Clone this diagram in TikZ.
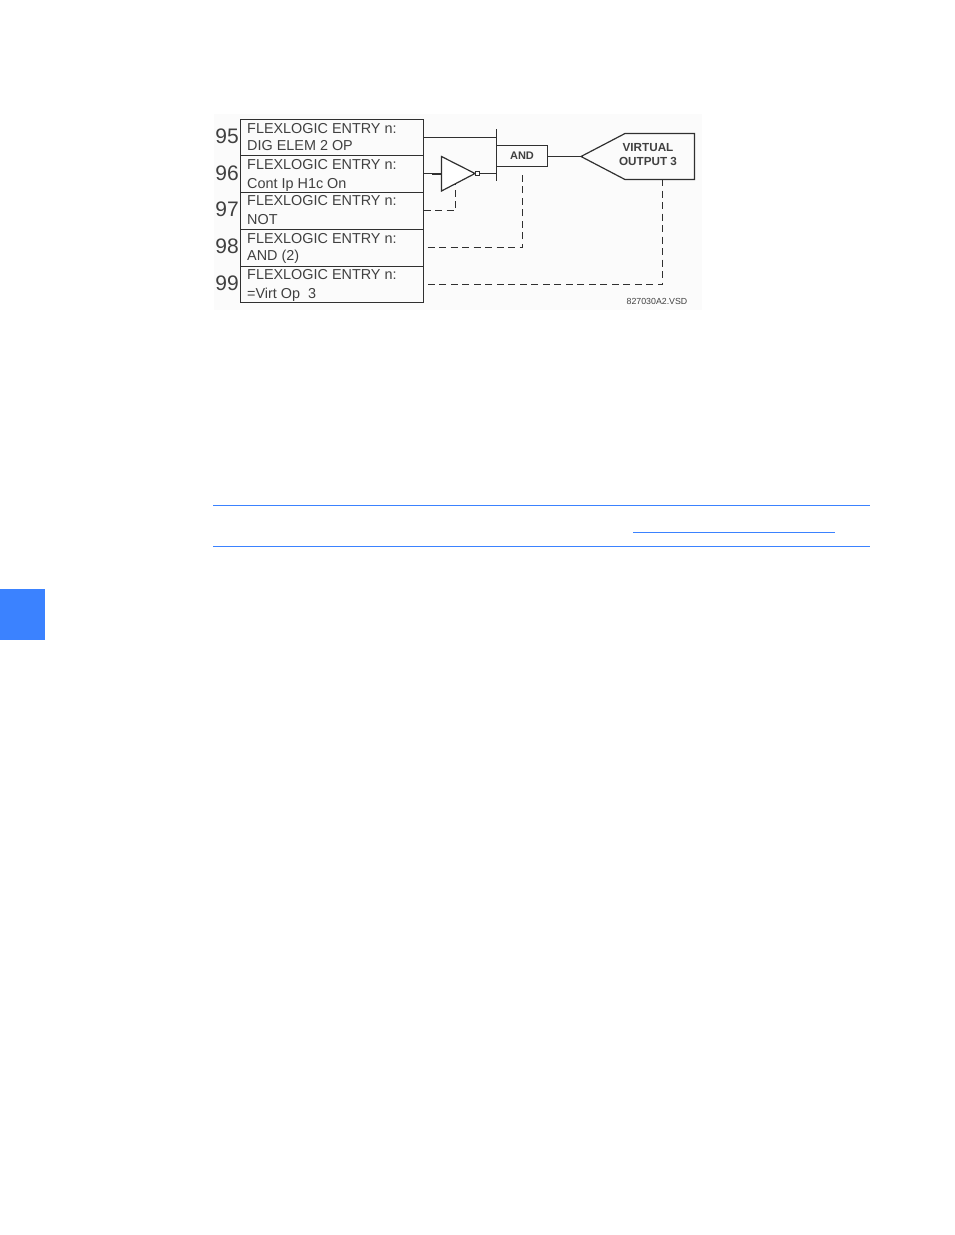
\documentclass[tikz,border=0pt]{standalone}
\usepackage{fontspec}
\setmainfont{Liberation Sans}
\usetikzlibrary{calc}
\definecolor{ink}{HTML}{303030}
\definecolor{txt}{HTML}{404040}
\definecolor{rule}{HTML}{3B82FF}
\tikzset{
  entry/.style={draw=ink,line width=1.2pt,minimum width=183pt,inner sep=0pt,outer sep=0pt,anchor=north west},
  etext/.style={text=txt,font=\fontsize{14.4}{16}\selectfont,anchor=base west,inner sep=0pt},
  num/.style={text=txt,font=\fontsize{21}{24}\selectfont,anchor=base east,inner sep=0pt},
  wire/.style={draw=ink,line width=1.2pt},
  dashwire/.style={draw=ink,line width=1.2pt,dash pattern=on 7pt off 4.5pt},
  gate/.style={draw=ink,line width=1.2pt,fill=white},
  andbox/.style={draw=ink,line width=1.2pt,minimum width=51pt,minimum height=21pt,inner sep=0pt,outer sep=0pt,anchor=north west,text=txt,font=\bfseries\fontsize{11}{12}\selectfont},
  vtext/.style={text=txt,font=\bfseries\fontsize{11.7}{14}\selectfont,align=center,inner sep=0pt},
  ref/.style={text=txt,font=\fontsize{8.8}{10}\selectfont,inner sep=0pt},
  bluerule/.style={draw=rule,line width=0.9pt}
}
\begin{document}
\begin{tikzpicture}[x=1pt,y=-1pt]
\useasboundingbox (0,0) rectangle (954,1235);
\fill[white] (0,0) rectangle (954,1235);
\fill[black!1.5] (214,114) rectangle (702,310);
% rows
\node[entry,minimum height=36pt] (r95) at (240.5,119.5) {};
\node[entry,minimum height=37pt] (r96) at (240.5,155.5) {};
\node[entry,minimum height=37pt] (r97) at (240.5,192.5) {};
\node[entry,minimum height=37pt] (r98) at (240.5,229.5) {};
\node[entry,minimum height=36pt] (r99) at (240.5,266.5) {};
% row texts
\node[etext] (t95a) at (247,133) {FLEXLOGIC ENTRY n:};
\node[etext] (t95b) at (247,150) {DIG ELEM 2 OP};
\node[etext] (t96a) at (247,169) {FLEXLOGIC ENTRY n:};
\node[etext] (t96b) at (247,188) {Cont Ip H1c On};
\node[etext] (t97a) at (247,205) {FLEXLOGIC ENTRY n:};
\node[etext] (t97b) at (247,224) {NOT};
\node[etext] (t98a) at (247,243) {FLEXLOGIC ENTRY n:};
\node[etext] (t98b) at (247,260) {AND (2)};
\node[etext] (t99a) at (247,279) {FLEXLOGIC ENTRY n:};
\node[etext] (t99b) at (247,298) {=Virt Op\ \ 3};
% numbers
\node[num] (n95) at (239,143) {95};
\node[num] (n96) at (239,180) {96};
\node[num] (n97) at (239,216) {97};
\node[num] (n98) at (239,253) {98};
\node[num] (n99) at (239,290) {99};
% inverter
\draw[gate] (441.5,156.5) -- (441.5,191) -- (475,173.5) -- cycle;
\coordinate (notin) at (441.5,173.5);
\coordinate (notctl) at (455.5,184);
\node[draw=ink,line width=0.9pt,fill=white,minimum size=4.5pt,inner sep=0pt,outer sep=0pt] (bub) at (477.5,173.5) {};
% and gate
\node[andbox] (and) at (496.5,145.5) {AND};
\coordinate (bustop) at (496.5,129);
\coordinate (busbot) at (496.5,181);
\draw[wire] (bustop) -- (busbot);
% virtual output
\coordinate (vtip) at (581,156.5);
\coordinate (vbot) at (662.5,179);
\draw[wire] (vtip) -- (625,133.5) -- (694.5,133.5) -- (694.5,179.5) -- (625,179.5) -- cycle;
\node[vtext] (vo) at (648,155) {VIRTUAL\\OUTPUT 3};
% solid wires
\draw[wire] (r95.east |- 0,137.5) -- (bustop |- 0,137.5);
\draw[wire] (r96.east |- notin) -- (notin);
\draw[draw=ink,line width=2pt] (432,173.5) -- (notin);
\draw[wire] (bub.east) -- (busbot |- bub);
\draw[wire] (and.east |- vtip) -- (vtip);
% dashed wires
\draw[dashwire] (r97.east |- 0,210.5) -- (notctl |- 0,210.5) -- (notctl);
\draw[dashwire] ($(r98.east |- 0,247.5)+(4,0)$) -- (522.5,247.5) -- (522.5,170);
\draw[dashwire] (vbot) -- (vbot |- 0,284.5) -- (r99.east |- 0,284.5);
\node[ref] (refid) at (657,301.5) {827030A2.VSD};
% blue rules and tab
\draw[bluerule] (213,505.5) -- (870,505.5);
\draw[bluerule] (633,532.5) -- (834.5,532.5);
\draw[bluerule] (213,546.5) -- (870,546.5);
\fill[rule] (0,589) rectangle (45,640);
\end{tikzpicture}
\end{document}
